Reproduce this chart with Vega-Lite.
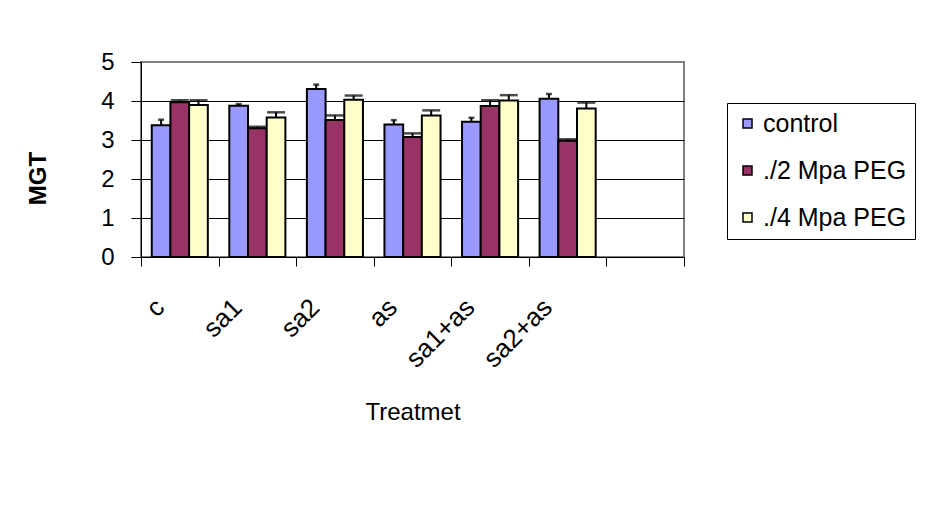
{
  "$schema": "https://vega.github.io/schema/vega-lite/v6.json",
  "width": 543,
  "height": 195,
  "autosize": {"type": "none"},
  "padding": {"left": 141, "top": 62, "right": 255, "bottom": 265},
  "background": "white",
  "config": {
    "font": "Liberation Sans",
    "view": {"stroke": "#808080", "strokeWidth": 2},
    "axis": {"domainColor": "black", "tickColor": "black", "labelColor": "black", "titleColor": "black", "labelFont": "Liberation Sans", "titleFont": "Liberation Sans"},
    "axisY": {
      "titleFontSize": 24,
      "titleFontWeight": "bold",
      "titleX": -103,
      "titleY": 116,
      "titleAlign": "center",
      "titleBaseline": "middle",
      "titleAngle": -90,
      "labelFontSize": 24,
      "labelPadding": 17,
      "labelOverlap": false,
      "tickCount": 10,
      "tickSize": 10,
      "grid": true
    }
  },
  "data": {
    "values": [
      {"treatment": "c", "series": "control", "value": 3.38, "err": 0.14},
      {"treatment": "c", "series": "./2 Mpa PEG", "value": 3.97, "err": 0.05},
      {"treatment": "c", "series": "./4 Mpa PEG", "value": 3.90, "err": 0.12},
      {"treatment": "sa1", "series": "control", "value": 3.88, "err": 0.04},
      {"treatment": "sa1", "series": "./2 Mpa PEG", "value": 3.30, "err": 0.04},
      {"treatment": "sa1", "series": "./4 Mpa PEG", "value": 3.58, "err": 0.13},
      {"treatment": "sa2", "series": "control", "value": 4.31, "err": 0.11},
      {"treatment": "sa2", "series": "./2 Mpa PEG", "value": 3.51, "err": 0.12},
      {"treatment": "sa2", "series": "./4 Mpa PEG", "value": 4.03, "err": 0.11},
      {"treatment": "as", "series": "control", "value": 3.40, "err": 0.11},
      {"treatment": "as", "series": "./2 Mpa PEG", "value": 3.08, "err": 0.09},
      {"treatment": "as", "series": "./4 Mpa PEG", "value": 3.63, "err": 0.13},
      {"treatment": "sa1+as", "series": "control", "value": 3.47, "err": 0.10},
      {"treatment": "sa1+as", "series": "./2 Mpa PEG", "value": 3.87, "err": 0.15},
      {"treatment": "sa1+as", "series": "./4 Mpa PEG", "value": 4.01, "err": 0.14},
      {"treatment": "sa2+as", "series": "control", "value": 4.06, "err": 0.12},
      {"treatment": "sa2+as", "series": "./2 Mpa PEG", "value": 2.98, "err": 0.04},
      {"treatment": "sa2+as", "series": "./4 Mpa PEG", "value": 3.81, "err": 0.15}
    ]
  },
  "encoding": {
    "x": {
      "field": "treatment",
      "type": "nominal",
      "sort": null,
      "scale": {"domain": ["c", "sa1", "sa2", "as", "sa1+as", "sa2+as", " "], "paddingInner": 0, "paddingOuter": 0},
      "axis": {
        "title": "Treatmet",
        "titleFontSize": 24,
        "titleFontWeight": "normal",
        "titleY": 155,
        "titleBaseline": "middle",
        "labelFontSize": 26,
        "labelAngle": -45,
        "labelAlign": "right",
        "labelBaseline": "middle",
        "labelPadding": 37,
        "labelOffset": -20,
        "labelOverlap": false,
        "tickBand": "extent",
        "tickSize": 9,
        "grid": false
      }
    },
    "xOffset": {
      "field": "series",
      "type": "nominal",
      "sort": ["control", "./2 Mpa PEG", "./4 Mpa PEG"],
      "scale": {"domain": ["control", "./2 Mpa PEG", "./4 Mpa PEG"], "paddingInner": 0, "paddingOuter": 0.575}
    }
  },
  "layer": [
    {
      "mark": {"type": "bar", "stroke": "black", "strokeWidth": 2},
      "encoding": {
        "y": {
          "field": "value",
          "type": "quantitative",
          "title": "MGT",
          "scale": {"domain": [0, 5], "nice": false, "zero": true},
          "axis": {
            "title": "MGT",
            "values": [0, 1, 2, 3, 4, 5],
            "tickCount": 10,
            "format": "d",
            "gridColor": {"condition": {"test": "datum.value == 5", "value": "#808080"}, "value": "black"}
          }
        },
        "color": {
          "field": "series",
          "type": "nominal",
          "sort": ["control", "./2 Mpa PEG", "./4 Mpa PEG"],
          "scale": {"domain": ["control", "./2 Mpa PEG", "./4 Mpa PEG"], "range": ["#9999FF", "#993366", "#FFFFCC"]},
          "legend": {
            "title": null,
            "orient": "none",
            "legendX": 586,
            "legendY": 41,
            "labelFontSize": 25,
            "labelFont": "Liberation Sans",
            "labelColor": "black",
            "labelOffset": 3,
            "symbolType": "square",
            "symbolSize": 81,
            "symbolStrokeColor": "black",
            "rowPadding": 21,
            "padding": 8,
            "strokeColor": "black",
            "fillColor": "white"
          }
        }
      }
    },
    {
      "mark": {"type": "rule", "stroke": "black", "strokeWidth": 2},
      "transform": [{"calculate": "datum.value + datum.err", "as": "hi"}],
      "encoding": {
        "y": {"field": "value", "type": "quantitative", "title": "MGT"},
        "y2": {"field": "hi"}
      }
    },
    {
      "mark": {"type": "tick", "color": "black", "thickness": 2.5, "size": 6},
      "transform": [
        {"filter": "datum.series == 'control'"},
        {"calculate": "datum.value + datum.err", "as": "hi"}
      ],
      "encoding": {
        "y": {"field": "hi", "type": "quantitative", "title": "MGT"}
      }
    },
    {
      "mark": {"type": "tick", "color": "black", "thickness": 2.5, "size": 18},
      "transform": [
        {"filter": "datum.series != 'control'"},
        {"calculate": "datum.value + datum.err", "as": "hi"}
      ],
      "encoding": {
        "y": {"field": "hi", "type": "quantitative", "title": "MGT"}
      }
    }
  ]
}
